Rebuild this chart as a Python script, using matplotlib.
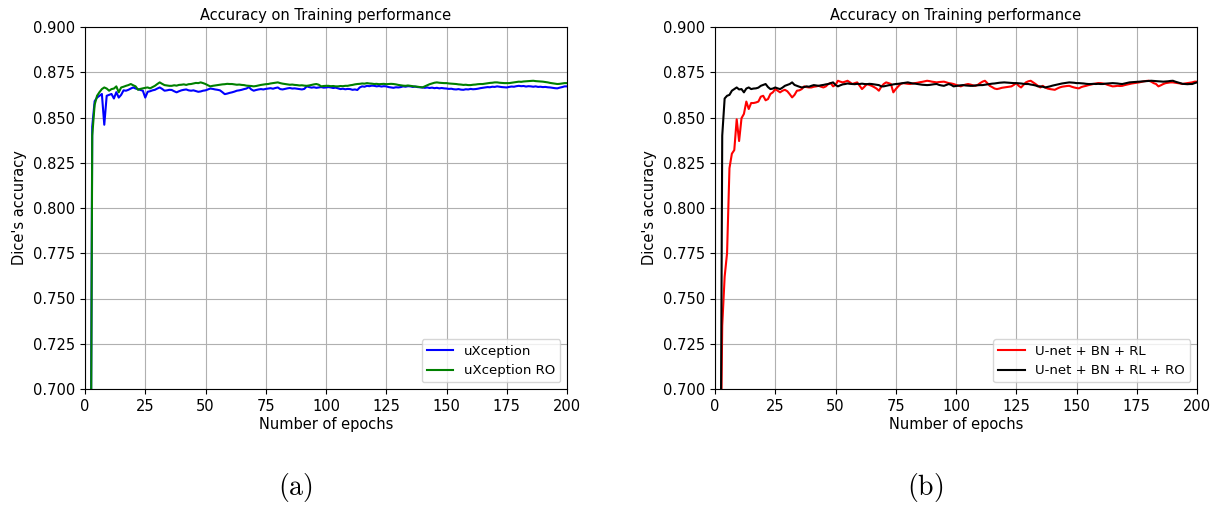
import matplotlib
matplotlib.use("Agg")
import matplotlib.pyplot as plt
import numpy as np
from matplotlib.ticker import FormatStrFormatter

epochs = list(range(1, 201))

uxception = [
    0.300, 0.520, 0.845, 0.859, 0.861, 0.862, 0.863, 0.846, 0.862, 0.8625,
    0.863, 0.8605, 0.864, 0.861, 0.8625, 0.865, 0.8648, 0.8653, 0.866, 0.8666,
    0.866, 0.8657, 0.8652, 0.8648, 0.861, 0.8642, 0.8645, 0.865, 0.8653, 0.866,
    0.8666, 0.8658, 0.8648, 0.865, 0.8653, 0.8652, 0.8645, 0.8639, 0.8645, 0.865,
    0.8653, 0.8655, 0.865, 0.8648, 0.865, 0.8646, 0.8642, 0.8644, 0.8648, 0.865,
    0.8655, 0.866, 0.8658, 0.8655, 0.8653, 0.865, 0.864, 0.8629, 0.8632, 0.8636,
    0.8639, 0.8643, 0.8648, 0.865, 0.8653, 0.8657, 0.866, 0.8668, 0.8655, 0.8648,
    0.8652, 0.8655, 0.8657, 0.8655, 0.8658, 0.866, 0.8662, 0.8659, 0.8663, 0.8666,
    0.8657, 0.8655, 0.8658, 0.8661, 0.8663, 0.866, 0.8661, 0.8659, 0.8657, 0.8655,
    0.8658, 0.8672, 0.8668, 0.8665, 0.8667, 0.8664, 0.8666, 0.8668, 0.8665, 0.8666,
    0.8668, 0.8666, 0.8663, 0.8665, 0.8661, 0.8657, 0.8659, 0.8656, 0.8658, 0.8657,
    0.8653, 0.8655, 0.8652, 0.8666, 0.8672, 0.867, 0.8675, 0.8673, 0.8676, 0.8675,
    0.8672, 0.8674, 0.8671, 0.8673, 0.8672, 0.8668, 0.8666, 0.8664, 0.8667, 0.8666,
    0.8668, 0.8672, 0.8670, 0.8673, 0.8672, 0.8669, 0.8671, 0.8668, 0.8667, 0.8666,
    0.8664, 0.8666, 0.8663, 0.8665, 0.8662, 0.8664, 0.8661, 0.8663, 0.8661, 0.866,
    0.8658, 0.8659, 0.8656, 0.8655, 0.8657, 0.8654, 0.8653, 0.8656, 0.8655, 0.8658,
    0.8656, 0.8657, 0.8659, 0.8662, 0.8664, 0.8666, 0.8668, 0.8667, 0.867, 0.8669,
    0.8672, 0.867, 0.8668, 0.8667, 0.8666, 0.8669, 0.8671, 0.867, 0.8673, 0.8675,
    0.8673, 0.8674, 0.8671, 0.8673, 0.8672, 0.867, 0.8672, 0.8669, 0.867, 0.8668,
    0.8669, 0.8667, 0.8666, 0.8664, 0.8662, 0.8661, 0.8665, 0.8668, 0.8672, 0.8672,
]

uxception_ro = [
    0.300, 0.500, 0.840, 0.857, 0.862, 0.864, 0.8657, 0.8666, 0.866, 0.8648,
    0.8657, 0.866, 0.8672, 0.8639, 0.8666, 0.867, 0.8675, 0.8679, 0.8685, 0.8678,
    0.8672, 0.8653, 0.8658, 0.8661, 0.8664, 0.8666, 0.8661, 0.8668, 0.8675, 0.8685,
    0.8694, 0.8686, 0.8679, 0.8677, 0.8675, 0.8675, 0.8678, 0.8676, 0.868, 0.8681,
    0.8683, 0.868, 0.8684, 0.8685, 0.8688, 0.8691, 0.869, 0.8694, 0.869, 0.8685,
    0.8678, 0.8672, 0.8675, 0.8677, 0.8679, 0.8681, 0.8683, 0.8684, 0.8686, 0.8685,
    0.8685, 0.8683, 0.8681, 0.8682, 0.868, 0.8679, 0.8676, 0.8675, 0.8674, 0.8672,
    0.8674, 0.8677, 0.868, 0.8682, 0.8684, 0.8685, 0.8688, 0.869, 0.8692, 0.8694,
    0.869, 0.8687, 0.8685, 0.8683, 0.8681, 0.8682, 0.868, 0.8679, 0.8677, 0.8678,
    0.8676, 0.8675, 0.8677, 0.868, 0.8683, 0.8685, 0.8681, 0.8672, 0.8674, 0.8675,
    0.8675, 0.8673, 0.8674, 0.8672, 0.8672, 0.8674, 0.8673, 0.8675, 0.8675, 0.8678,
    0.868, 0.8683, 0.8685, 0.8686, 0.8688, 0.8687, 0.869, 0.8688, 0.8687, 0.8685,
    0.8686, 0.8684, 0.8685, 0.8686, 0.8684, 0.8685, 0.8686, 0.8685, 0.8683, 0.868,
    0.8678, 0.8676, 0.8675, 0.8677, 0.8675, 0.8673, 0.8671, 0.867, 0.8668, 0.8666,
    0.8672, 0.8678, 0.8684, 0.8688, 0.8692, 0.8694, 0.8692, 0.8691, 0.869, 0.869,
    0.8688, 0.8687, 0.8686, 0.8685, 0.8683, 0.8682, 0.868, 0.8681, 0.8679, 0.8679,
    0.8681, 0.8682, 0.8684, 0.8685, 0.8685, 0.8687, 0.8689, 0.8691, 0.8692, 0.8694,
    0.8694, 0.8692, 0.8691, 0.869, 0.869, 0.869, 0.8692, 0.8694, 0.8696, 0.8698,
    0.8697, 0.8699, 0.87, 0.8701, 0.8702, 0.8703, 0.8701, 0.87, 0.8699, 0.8698,
    0.8696, 0.8694, 0.8691, 0.8689, 0.8687, 0.8685, 0.8686, 0.8688, 0.869, 0.869,
]

unet_bn_rl = [
    0.350, 0.620, 0.735, 0.762, 0.775, 0.822, 0.830, 0.832, 0.849, 0.837,
    0.8496, 0.852, 0.8588, 0.8547, 0.858, 0.858, 0.8583, 0.8588, 0.8615, 0.862,
    0.8595, 0.8602, 0.863, 0.8639, 0.8657, 0.8648, 0.8639, 0.8648, 0.8653, 0.8645,
    0.8629, 0.8611, 0.8625, 0.8648, 0.865, 0.8657, 0.8672, 0.8668, 0.8666, 0.8666,
    0.867, 0.8672, 0.8675, 0.867, 0.8666, 0.8672, 0.8685, 0.869, 0.8672, 0.868,
    0.8703, 0.8698, 0.8694, 0.8698, 0.8703, 0.8694, 0.8685, 0.869, 0.8694, 0.8675,
    0.8657, 0.867, 0.8685, 0.868, 0.8675, 0.8668, 0.866, 0.8648, 0.867, 0.8685,
    0.8694, 0.869, 0.8685, 0.8639, 0.8657, 0.8672, 0.8685, 0.869, 0.8688, 0.8686,
    0.8685, 0.8688, 0.869, 0.8692, 0.8695, 0.8697, 0.87, 0.8703, 0.8701, 0.8698,
    0.8696, 0.8694, 0.8696, 0.8697, 0.8698, 0.8694, 0.869, 0.8688, 0.8685, 0.868,
    0.8676, 0.8672, 0.8678, 0.8682, 0.8685, 0.8682, 0.8678, 0.8675, 0.868, 0.869,
    0.8698, 0.8703, 0.869, 0.8675, 0.8668, 0.866, 0.8657, 0.866, 0.8664, 0.8666,
    0.8668, 0.867, 0.8672, 0.868, 0.869, 0.8675, 0.8666, 0.868, 0.8694, 0.87,
    0.8703, 0.8694, 0.8685, 0.8675, 0.8666, 0.8675, 0.8666, 0.866, 0.8657, 0.8655,
    0.8653, 0.866, 0.8666, 0.867, 0.8672, 0.8674, 0.8675, 0.867, 0.8666, 0.8663,
    0.8661, 0.8668, 0.8672, 0.8675, 0.8679, 0.8682, 0.8685, 0.8688, 0.869, 0.869,
    0.8688, 0.8685, 0.868, 0.8676, 0.8672, 0.8673, 0.8675, 0.8674, 0.8675, 0.8679,
    0.8682, 0.8685, 0.8688, 0.869, 0.8692, 0.8694, 0.8697, 0.87, 0.8702, 0.8703,
    0.8698, 0.869, 0.8685, 0.8672, 0.8678, 0.8685, 0.869, 0.8692, 0.8694, 0.8694,
    0.8692, 0.869, 0.8688, 0.8685, 0.8688, 0.869, 0.8692, 0.8694, 0.8698, 0.8698,
]

unet_bn_rl_ro = [
    0.300, 0.550, 0.840, 0.8605, 0.862, 0.8625, 0.8648, 0.8657, 0.8666, 0.8655,
    0.8657, 0.8639, 0.866, 0.8666, 0.8657, 0.866, 0.8661, 0.8665, 0.8675, 0.868,
    0.8685, 0.8668, 0.8657, 0.866, 0.8666, 0.8661, 0.8657, 0.8665, 0.8675, 0.868,
    0.8685, 0.8694, 0.868, 0.8675, 0.867, 0.8666, 0.8668, 0.8672, 0.867, 0.8675,
    0.8679, 0.8677, 0.8675, 0.8678, 0.868, 0.8683, 0.8685, 0.869, 0.8694, 0.868,
    0.8672, 0.8678, 0.8683, 0.8685, 0.8688, 0.8686, 0.8685, 0.8684, 0.8686, 0.8685,
    0.8687, 0.8685, 0.8684, 0.8686, 0.8685, 0.8683, 0.8681, 0.8679, 0.8672, 0.8672,
    0.8675, 0.8678, 0.868, 0.8683, 0.8685, 0.8686, 0.8688, 0.869, 0.8692, 0.8694,
    0.8691, 0.8688, 0.8687, 0.8685, 0.8683, 0.8681, 0.868, 0.8679, 0.868, 0.8682,
    0.8684, 0.8685, 0.868, 0.8677, 0.8675, 0.868, 0.8685, 0.868, 0.8672, 0.8674,
    0.8676, 0.8678, 0.8679, 0.8677, 0.8676, 0.8675, 0.8675, 0.8677, 0.8678, 0.8679,
    0.8679, 0.8681, 0.8683, 0.8685, 0.8687, 0.8688, 0.869, 0.8692, 0.8693, 0.8694,
    0.8693, 0.8692, 0.8691, 0.869, 0.869, 0.8689, 0.8688, 0.8686, 0.8685, 0.8685,
    0.8682, 0.868, 0.8677, 0.8672, 0.8672, 0.867, 0.8666, 0.8669, 0.8672, 0.8676,
    0.8679, 0.8682, 0.8685, 0.8688, 0.869, 0.8692, 0.8694, 0.8693, 0.8692, 0.869,
    0.869, 0.8689, 0.8688, 0.8686, 0.8685, 0.8685, 0.8686, 0.8685, 0.8686, 0.8685,
    0.8685, 0.8687, 0.8688, 0.8689, 0.869, 0.8689, 0.8688, 0.8686, 0.8685, 0.8688,
    0.8691, 0.8694, 0.8695, 0.8696, 0.8697, 0.8698, 0.8699, 0.87, 0.8701, 0.8702,
    0.8703, 0.8702, 0.8701, 0.87, 0.8699, 0.8698, 0.8699, 0.87, 0.8702, 0.8703,
    0.8698, 0.8694, 0.869, 0.8686, 0.8685, 0.8684, 0.8685, 0.8685, 0.869, 0.8694,
]

x_ticks = [0, 25, 50, 75, 100, 125, 150, 175, 200]
y_ticks = [0.700, 0.725, 0.750, 0.775, 0.800, 0.825, 0.850, 0.875, 0.900]

title = "Accuracy on Training performance"
xlabel = "Number of epochs"
ylabel = "Dice's accuracy"

plt.rcParams['mathtext.fontset'] = 'cm'
fs = 10.5

fig = plt.figure(figsize=(12.14, 5.05), dpi=100)
ax1 = fig.add_axes([85 / 1214, 1 - 389 / 505, 482 / 1214, 362 / 505])
ax2 = fig.add_axes([715 / 1214, 1 - 389 / 505, 482 / 1214, 362 / 505])

panels = [
    (ax1, [(uxception, "blue", "uXception"), (uxception_ro, "green", "uXception RO")]),
    (ax2, [(unet_bn_rl, "red", "U-net + BN + RL"), (unet_bn_rl_ro, "black", "U-net + BN + RL + RO")]),
]

for ax, series in panels:
    for vals, col, lab in series:
        ax.plot(epochs, vals, color=col, lw=1.5, label=lab)
    ax.set_xlim(0, 200)
    ax.set_ylim(0.7, 0.9)
    ax.set_xticks(x_ticks)
    ax.set_yticks(y_ticks)
    ax.yaxis.set_major_formatter(FormatStrFormatter('%.3f'))
    ax.grid(True, color='#b0b0b0', lw=0.8)
    ax.tick_params(labelsize=fs)
    ax.set_title(title, fontsize=fs, pad=5)
    ax.set_xlabel(xlabel, fontsize=fs, labelpad=2)
    ax.set_ylabel(ylabel, fontsize=fs, labelpad=4)
    ax.legend(loc='lower right', fontsize=9.5)

fig.text(295 / 1214, 1 - 488 / 505, r'$\mathrm{(a)}$', fontsize=20, ha='center', va='center')
fig.text(925 / 1214, 1 - 488 / 505, r'$\mathrm{(b)}$', fontsize=20, ha='center', va='center')

fig.savefig("out.png", dpi=100)
